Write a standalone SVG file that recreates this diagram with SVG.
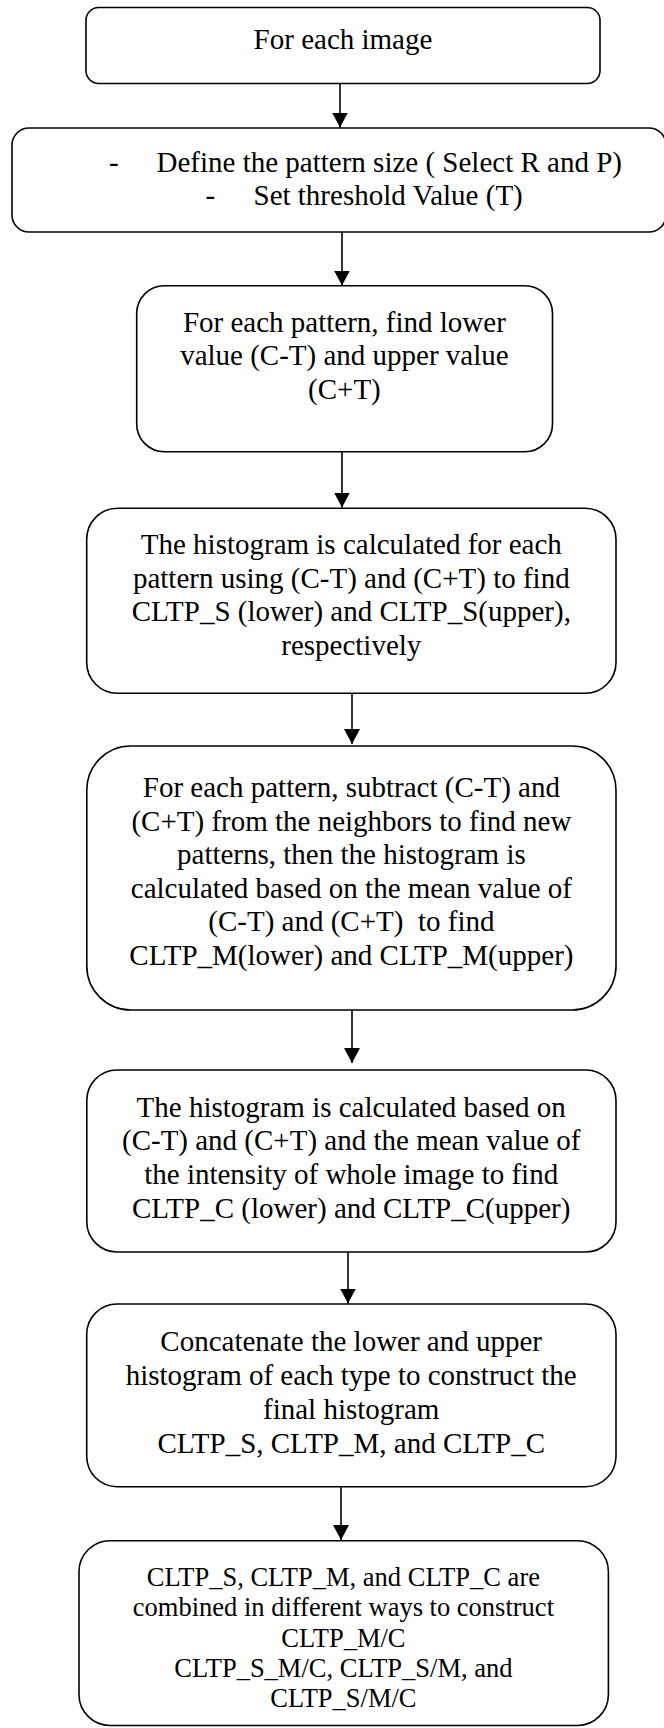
<svg xmlns="http://www.w3.org/2000/svg" width="664" height="1728" viewBox="0 0 664 1728">
<style>
.box{fill:#fff;stroke:#000;stroke-width:1.6}
.t{font-family:"Liberation Serif","Times New Roman",serif;font-size:29px;fill:#000;text-anchor:middle}
.l{text-anchor:start}
.s{font-size:26.5px}
.conn line{stroke:#000;stroke-width:1.6;marker-end:url(#ah)}
</style>
<defs>
<marker id="ah" viewBox="0 0 15 16" refX="15" refY="8" markerWidth="15" markerHeight="16" markerUnits="userSpaceOnUse" orient="auto">
<path d="M0,0 L15,8 L0,16 z" fill="#000"/>
</marker>
</defs>
<rect width="664" height="1728" fill="#fff"/>
<g id="connectors" class="conn">
<line x1="340" y1="83.3" x2="340" y2="127.5"/>
<line x1="342" y1="232" x2="342" y2="285.5"/>
<line x1="342" y1="452" x2="342" y2="507.5"/>
<line x1="352" y1="693" x2="352" y2="744"/>
<line x1="352" y1="1010" x2="352" y2="1063"/>
<line x1="348" y1="1252" x2="348" y2="1303.5"/>
<line x1="341" y1="1487" x2="341" y2="1540"/>
</g>
<g id="n1">
<rect class="box" x="86" y="7.5" width="514" height="76" rx="12.7"/>
<text class="t" x="343" y="49">For each image</text>
</g>
<g id="n2">
<rect class="box" x="12" y="128" width="654" height="104" rx="17"/>
<text class="t l" x="109" y="172.3">-</text>
<text class="t l" x="156.5" y="172.3">Define the pattern size ( Select R and P)</text>
<text class="t l" x="205.5" y="205">-</text>
<text class="t l" x="253.5" y="205">Set threshold Value (T)</text>
</g>
<g id="n3">
<rect class="box" x="136.7" y="285.7" width="415.8" height="166" rx="27.7"/>
<text class="t" x="344.4" y="331.7">For each pattern, find lower</text>
<text class="t" x="344.4" y="365.1">value (C-T) and upper value</text>
<text class="t" x="344.4" y="398.5">(C+T)</text>
</g>
<g id="n4">
<rect class="box" x="86.7" y="508.3" width="529.3" height="185" rx="30.8"/>
<text class="t" x="351.3" y="554">The histogram is calculated for each</text>
<text class="t" x="351.3" y="587.7">pattern using (C-T) and (C+T) to find</text>
<text class="t" x="351.3" y="621.4">CLTP_S (lower) and CLTP_S(upper),</text>
<text class="t" x="351.3" y="655">respectively</text>
</g>
<g id="n5">
<rect class="box" x="86.8" y="746" width="529.2" height="264" rx="44"/>
<text class="t" x="351.4" y="797">For each pattern, subtract (C-T) and</text>
<text class="t" x="351.4" y="830.6">(C+T) from the neighbors to find new</text>
<text class="t" x="351.4" y="864.2">patterns, then the histogram is</text>
<text class="t" x="351.4" y="897.8">calculated based on the mean value of</text>
<text class="t" x="351.4" y="931.4" xml:space="preserve">(C-T) and (C+T)  to find</text>
<text class="t" x="351.4" y="965">CLTP_M(lower) and CLTP_M(upper)</text>
</g>
<g id="n6">
<rect class="box" x="86.8" y="1070" width="529.2" height="182" rx="30.3"/>
<text class="t" x="351.2" y="1116.8">The histogram is calculated based on</text>
<text class="t" x="351.2" y="1150.4">(C-T) and (C+T) and the mean value of</text>
<text class="t" x="351.2" y="1184">the intensity of whole image to find</text>
<text class="t" x="351.2" y="1217.6">CLTP_C (lower) and CLTP_C(upper)</text>
</g>
<g id="n7">
<rect class="box" x="86.7" y="1304" width="529.3" height="182.7" rx="30.4"/>
<text class="t" x="351.2" y="1350.5">Concatenate the lower and upper</text>
<text class="t" x="351.2" y="1384.5">histogram of each type to construct the</text>
<text class="t" x="351.2" y="1418.5">final histogram</text>
<text class="t" x="351.2" y="1452.5">CLTP_S, CLTP_M, and CLTP_C</text>
</g>
<g id="n8">
<rect class="box" x="79" y="1540.7" width="529.4" height="184.8" rx="31"/>
<text class="t s" x="343.4" y="1586">CLTP_S, CLTP_M, and CLTP_C are</text>
<text class="t s" x="343.4" y="1616">combined in different ways to construct</text>
<text class="t s" x="343.4" y="1646.5">CLTP_M/C</text>
<text class="t s" x="343.4" y="1676.7">CLTP_S_M/C, CLTP_S/M, and</text>
<text class="t s" x="343.4" y="1706.8">CLTP_S/M/C</text>
</g>
</svg>
